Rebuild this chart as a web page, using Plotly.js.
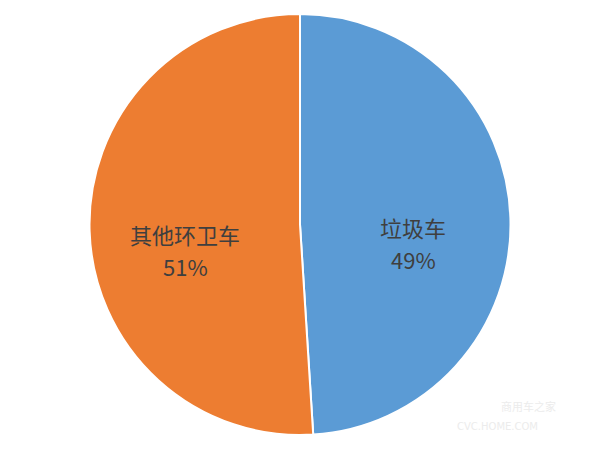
<!DOCTYPE html>
<html>
<head>
<meta charset="utf-8">
<script src="https://cdn.plot.ly/plotly-3.0.1.min.js"></script>
<style>html,body{margin:0;padding:0;background:#fff;}#chart{width:600px;height:450px;}</style>
</head>
<body>
<div id="chart"></div>
<script>
const labels = ['垃圾车', '其他环卫车'];
const values = [49, 51];
const colors = ['#5B9BD5', '#ED7D31'];
// label anchor positions in paper pixels (layout only)
const labelPos = [[413, 227, 259], [185, 234, 266]];

const total = values.reduce((a, b) => a + b, 0);

const trace = {
  type: 'pie',
  labels: labels,
  values: values,
  sort: false,
  direction: 'clockwise',
  rotation: 0,
  marker: {colors: colors, line: {color: '#ffffff', width: 2}},
  textinfo: 'none',
  hoverinfo: 'none',
  domain: {x: [0, 1], y: [15/450, 436/450]},
  showlegend: false
};

const font = {family: 'Noto Sans CJK SC, sans-serif', size: 22, color: '#3f3f3f'};
const annotations = [];
labels.forEach((lab, i) => {
  const p = labelPos[i];
  annotations.push({text: lab, x: p[0] / 600, y: 1 - p[1] / 450, xref: 'paper', yref: 'paper',
    showarrow: false, xanchor: 'center', yanchor: 'middle', font: font});
  annotations.push({text: Math.round(values[i] / total * 100) + '%', x: p[0] / 600, y: 1 - p[2] / 450,
    xref: 'paper', yref: 'paper', showarrow: false, xanchor: 'center', yanchor: 'middle', font: font});
});
annotations.push({text: '商用车之家', x: 0.93, y: 0.075, xref: 'paper', yref: 'paper', showarrow: false,
  font: {family: 'Noto Sans CJK SC, sans-serif', size: 11, color: '#ececec'}});
annotations.push({text: 'CVC.HOME.COM', x: 0.9, y: 0.035, xref: 'paper', yref: 'paper', showarrow: false,
  font: {family: 'DejaVu Sans, sans-serif', size: 10, color: '#ececec'}});

const layout = {
  width: 600,
  height: 450,
  margin: {l: 0, r: 0, t: 0, b: 0},
  paper_bgcolor: '#ffffff',
  plot_bgcolor: '#ffffff',
  showlegend: false,
  annotations: annotations
};

Plotly.newPlot('chart', [trace], layout, {displayModeBar: false, staticPlot: true});
</script>
</body>
</html>
